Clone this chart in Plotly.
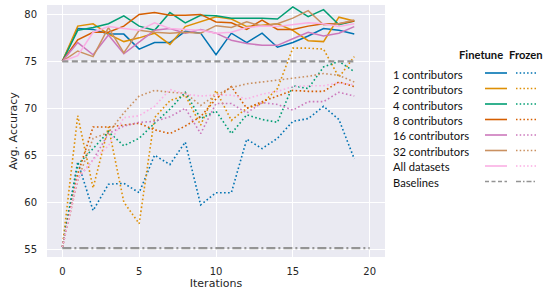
import plotly.graph_objects as go

iterations = list(range(20))
baseline_iters = list(range(21))

labels = ["1 contributors", "2 contributors", "4 contributors", "8 contributors",
          "16 contributors", "32 contributors", "All datasets"]
colors = ["#0173b2", "#de8f05", "#029e73", "#d55e00", "#cc78bc", "#ca9161", "#fbafe4"]
baseline_color = "#949494"

ft_1 = [75.0, 78.5, 78.4, 77.9, 77.9, 76.3, 77.0, 77.0, 78.2, 78.0, 75.7, 78.0, 77.0, 78.0, 76.5, 77.0, 77.7, 78.5, 78.3, 77.9]
ft_2 = [75.0, 78.75, 79.0, 77.9, 77.1, 77.5, 78.0, 76.8, 78.7, 79.2, 79.75, 79.5, 78.7, 78.85, 79.0, 78.3, 77.2, 77.1, 79.7, 79.3]
ft_4 = [75.0, 78.3, 78.6, 79.0, 79.85, 78.75, 78.3, 80.2, 79.1, 79.9, 79.85, 79.6, 79.6, 79.6, 79.5, 80.8, 79.75, 80.5, 78.9, 79.3]
ft_8 = [75.0, 77.3, 78.1, 78.1, 78.75, 80.0, 80.2, 79.9, 79.9, 80.0, 79.2, 79.1, 78.4, 79.4, 78.4, 78.4, 78.75, 79.0, 79.0, 79.3]
ft_16 = [75.0, 77.0, 75.7, 77.8, 75.8, 77.1, 78.3, 78.5, 78.0, 78.4, 78.0, 77.25, 76.9, 76.7, 76.7, 77.4, 78.1, 77.7, 78.0, 78.7]
ft_32 = [75.0, 76.1, 75.5, 78.6, 75.9, 78.3, 78.1, 78.0, 78.1, 78.0, 78.8, 78.6, 79.2, 78.75, 79.0, 79.6, 80.4, 78.9, 79.0, 79.4]
ft_all = [75.0, 75.6, 78.1, 78.7, 78.5, 78.3, 79.1, 78.5, 78.4, 78.3, 78.0, 78.1, 78.6, 78.75, 78.7, 78.9, 79.1, 79.0, 78.7, 79.0]

fz_1 = [55.2, 64.3, 59.1, 61.9, 62.0, 61.0, 65.0, 64.0, 66.4, 59.7, 61.0, 61.0, 66.7, 65.7, 66.8, 68.6, 68.9, 70.2, 68.8, 64.6]
fz_2 = [55.2, 69.2, 61.5, 68.0, 60.0, 57.7, 69.0, 70.8, 71.4, 68.2, 71.9, 68.7, 70.0, 70.5, 72.1, 76.4, 76.4, 76.3, 73.3, 75.5]
fz_4 = [55.2, 64.0, 65.7, 67.5, 66.0, 66.8, 68.4, 69.9, 71.7, 68.9, 69.7, 67.3, 69.3, 68.8, 68.5, 72.4, 72.1, 74.4, 75.0, 73.9]
fz_8 = [55.2, 63.0, 68.0, 68.0, 68.2, 68.4, 67.7, 67.3, 68.1, 69.1, 71.0, 72.3, 70.0, 70.7, 71.3, 71.9, 71.8, 71.8, 72.8, 72.3]
fz_16 = [55.2, 62.5, 64.5, 67.3, 68.1, 68.5, 68.6, 69.1, 70.0, 67.3, 70.5, 70.5, 69.5, 70.6, 70.4, 69.8, 70.7, 70.7, 71.7, 71.3]
fz_32 = [55.2, 62.3, 66.8, 67.4, 69.5, 71.3, 71.9, 71.7, 71.6, 70.3, 71.4, 72.2, 72.6, 72.8, 73.0, 73.2, 73.4, 73.7, 73.5, 72.8]
fz_all = [55.2, 62.5, 64.5, 66.0, 69.0, 69.2, 70.2, 72.0, 71.5, 71.3, 71.4, 71.4, 71.0, 71.5, 71.8, 72.3, 72.4, 72.4, 72.7, 72.5]

baseline_finetune = [75.0] * 20
baseline_frozen = [55.1] * 21

finetune = [ft_1, ft_2, ft_4, ft_8, ft_16, ft_32, ft_all]
frozen = [fz_1, fz_2, fz_4, fz_8, fz_16, fz_32, fz_all]

DOT = "1.6px,2.4px"
DASH = "6px,3.5px"
DASHDOT = "9px,3px,2px,3px"

fig = go.Figure()
for vals, c in zip(frozen, colors):
    fig.add_trace(go.Scatter(x=iterations, y=vals, mode="lines",
                             line=dict(color=c, width=1.6, dash=DOT), showlegend=False))
for vals, c in zip(finetune, colors):
    fig.add_trace(go.Scatter(x=iterations, y=vals, mode="lines",
                             line=dict(color=c, width=1.5), showlegend=False))
fig.add_trace(go.Scatter(x=iterations, y=baseline_finetune, mode="lines",
                         line=dict(color=baseline_color, width=2.2, dash=DASH), showlegend=False))
fig.add_trace(go.Scatter(x=baseline_iters, y=baseline_frozen, mode="lines",
                         line=dict(color=baseline_color, width=2.2, dash=DASHDOT), showlegend=False))

W, H = 547, 293
L, R, T, B = 47, 385, 5, 257


def px(xp):
    return (xp - L) / (R - L)


def py(yp):
    return (B - yp) / (B - T)


annotations = []
shapes = []
font_leg = dict(family="Lato, 'Open Sans', sans-serif", size=11.2, color="#111111")
annotations.append(dict(x=px(481), y=py(55), xref="paper", yref="paper", text="<b>Finetune</b>",
                        showarrow=False, font=font_leg, xanchor="center", yanchor="middle"))
annotations.append(dict(x=px(526), y=py(55), xref="paper", yref="paper", text="<b>Frozen</b>",
                        showarrow=False, font=font_leg, xanchor="center", yanchor="middle"))
row_labels = labels + ["Baselines"]
row_colors = colors + [baseline_color]
for i, (lab, c) in enumerate(zip(row_labels, row_colors)):
    yrow = 74 + i * 15.5
    annotations.append(dict(x=px(391), y=py(yrow), xref="paper", yref="paper", text=lab,
                            showarrow=False, font=font_leg, xanchor="left", yanchor="middle"))
    if lab == "Baselines":
        d1, d2, w = "4px,2.5px", "5px,2px,1.5px,2px", 1.5
    else:
        d1, d2, w = "solid", "1.5px,2.2px", 1.6
    shapes.append(dict(type="line", xref="paper", yref="paper", x0=px(485), x1=px(507),
                       y0=py(yrow - 1), y1=py(yrow - 1), line=dict(color=c, width=w, dash=d1)))
    shapes.append(dict(type="line", xref="paper", yref="paper", x0=px(516), x1=px(537),
                       y0=py(yrow - 1), y1=py(yrow - 1), line=dict(color=c, width=w, dash=d2)))

tick_font = dict(family="DejaVu Sans", size=10, color="#262626")
fig.update_layout(
    width=W, height=H,
    margin=dict(l=L, r=W - R, t=T, b=H - B),
    paper_bgcolor="white", plot_bgcolor="#EAEAF2",
    font=dict(family="DejaVu Sans", color="#262626"),
    annotations=annotations, shapes=shapes,
    showlegend=False,
)
fig.update_xaxes(range=[-1, 21], tickvals=[0, 5, 10, 15, 20], showgrid=True, gridcolor="white",
                 gridwidth=1, zeroline=False, showline=False, tickfont=tick_font,
                 ticklabelstandoff=7, automargin=False,
                 title=dict(text="Iterations", font=dict(family="DejaVu Sans", size=11, color="#262626"),
                            standoff=3))
fig.update_yaxes(range=[54.15, 81.0], tickvals=[55, 60, 65, 70, 75, 80], showgrid=True, gridcolor="white",
                 gridwidth=1, zeroline=False, showline=False, tickfont=tick_font,
                 ticklabelstandoff=9, automargin=False,
                 title=dict(text="Avg. Accuracy", font=dict(family="DejaVu Sans", size=11, color="#262626"),
                            standoff=4))

fig.write_html("out.html", config={"displayModeBar": False},
               post_script="document.body.style.margin='0px';document.body.style.padding='0px';")
